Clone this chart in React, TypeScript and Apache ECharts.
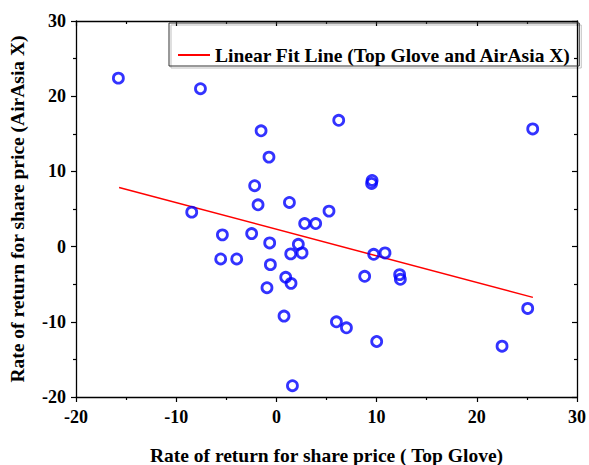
import React, { useEffect, useRef } from "react";
import * as echarts from "echarts";

const topGlove: number[] = [
  -15.77, -7.58, -1.53, -0.74, -2.17, -1.83, 1.3, 6.22, 9.55, 9.5, 25.58, -8.45, 2.82, 3.92,
  -5.39, -2.47, -0.67, 2.19, 1.43, 2.56, -5.56, -3.96, -0.6, 0.93, 1.46, -0.94, 0.76, 1.6,
  5.25, 9.71, 10.84, 8.81, 12.3, 12.37, 5.99, 6.99, 10.01, 22.52, 25.08,
];
const airAsiaX: number[] = [
  22.4, 21.0, 15.4, 11.9, 8.1, 5.56, 5.87, 16.8, 8.8, 8.4, 15.65, 4.58, 3.07, 3.07,
  1.56, 1.73, 0.49, 0.31, -0.97, -0.84, -1.64, -1.64, -2.4, -4.08, -4.89, -5.47, -9.24, -18.5,
  4.72, -1.02, -0.84, -3.95, -3.73, -4.35, -10.0, -10.8, -12.62, -13.24, -8.22,
];
const fitX: number[] = [-15.7, 25.6];
const fitY: number[] = [7.86, -6.75];

const xTitle = "Rate of return for share price ( Top Glove)";
const yTitle = "Rate of return for share price (AirAsia X)";
const fitName = "Linear Fit Line (Top Glove and AirAsia X)";

const FONT = "'Liberation Serif', 'Times New Roman', serif";

export default function App() {
  const ref = useRef<HTMLDivElement>(null);
  useEffect(() => {
    if (!ref.current) return;
    const chart = echarts.init(ref.current, null, { renderer: "svg" });
    const scatterData = topGlove.map((x, i) => [x, airAsiaX[i]]);
    const fitData = fitX.map((x, i) => [x, fitY[i]]);
    const axisLine = { show: true, onZero: false, lineStyle: { color: "#000", width: 1.3 } };
    const tickLabel = {
      color: "#000",
      fontFamily: FONT,
      fontWeight: "bold" as const,
      fontSize: 18,
    };
    const titleStyle = { ...tickLabel, fontSize: 19.5 };
    chart.setOption({
      animation: false,
      backgroundColor: "#fff",
      grid: { left: 76, right: 12, top: 21, bottom: 68, outerBoundsMode: "none", containLabel: false },
      legend: {
        data: [fitName],
        left: 169,
        top: 23,
        padding: [22, 8, 1, 9],
        itemWidth: 32,
        itemHeight: 14,
        itemGap: 5,
        borderColor: "#333",
        borderWidth: 1,
        textStyle: { ...titleStyle, lineHeight: 20 },
        shadowColor: "rgba(0,0,0,0.25)",
        shadowOffsetX: 2,
        shadowOffsetY: 2,
        icon: "path://M0,6 L32,6 L32,8 L0,8 Z",
      },
      xAxis: [
        {
          type: "value",
          min: -20,
          max: 30,
          interval: 10,
          position: "bottom",
          name: xTitle,
          nameLocation: "middle",
          nameGap: 48,
          nameTextStyle: titleStyle,
          axisLine,
          axisTick: { show: true, inside: false, length: 5, lineStyle: { color: "#000", width: 1.2 } },
          minorTick: { show: true, splitNumber: 2, length: 3, lineStyle: { color: "#000", width: 1.2 } },
          axisLabel: { ...tickLabel, margin: 11 },
          splitLine: { show: false },
        },
        {
          type: "value",
          min: -20,
          max: 30,
          interval: 10,
          position: "top",
          axisLine,
          axisTick: { show: true, inside: true, length: 5, lineStyle: { color: "#000", width: 1.2 } },
          minorTick: { show: true, splitNumber: 2, length: 3, lineStyle: { color: "#000", width: 1.2 } },
          axisLabel: { show: false },
          splitLine: { show: false },
        },
      ],
      yAxis: [
        {
          type: "value",
          min: -20,
          max: 30,
          interval: 10,
          position: "left",
          name: yTitle,
          nameLocation: "middle",
          nameGap: 49,
          nameRotate: 90,
          nameTextStyle: titleStyle,
          axisLine,
          axisTick: { show: true, inside: false, length: 5, lineStyle: { color: "#000", width: 1.2 } },
          minorTick: { show: true, splitNumber: 2, length: 3, lineStyle: { color: "#000", width: 1.2 } },
          axisLabel: { ...tickLabel, margin: 10 },
          splitLine: { show: false },
        },
        {
          type: "value",
          min: -20,
          max: 30,
          interval: 10,
          position: "right",
          axisLine,
          axisTick: { show: true, inside: true, length: 5, lineStyle: { color: "#000", width: 1.2 } },
          minorTick: { show: true, splitNumber: 2, length: 3, lineStyle: { color: "#000", width: 1.2 } },
          axisLabel: { show: false },
          splitLine: { show: false },
        },
      ],
      series: [
        {
          name: fitName,
          type: "line",
          data: fitData,
          xAxisIndex: 0,
          yAxisIndex: 0,
          showSymbol: false,
          symbol: "none",
          lineStyle: { color: "#ff0000", width: 1.5 },
          itemStyle: { color: "#ff0000" },
          z: 3,
        },
        {
          name: "Data",
          type: "scatter",
          data: scatterData,
          xAxisIndex: 0,
          yAxisIndex: 0,
          symbol: "circle",
          symbolSize: 10,
          itemStyle: { color: "rgba(255,255,255,0)", borderColor: "#0000ff", borderWidth: 2.8 },
          z: 4,
        },
      ],
    });
    return () => chart.dispose();
  }, []);
  return <div ref={ref} style={{ width: 589, height: 465, position: "absolute", left: 0, top: 0 }} />;
}
